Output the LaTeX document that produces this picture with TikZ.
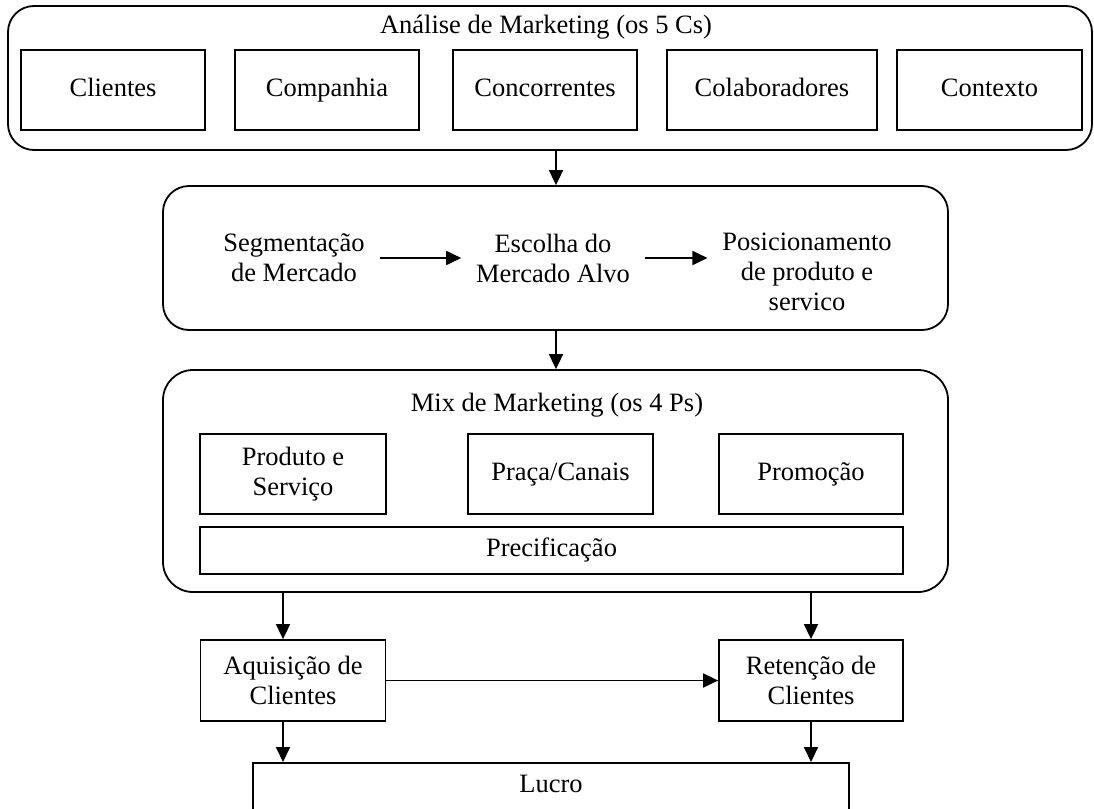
\documentclass[tikz,border=0pt]{standalone}
\usepackage{fontspec}
\setmainfont{Liberation Serif}
\usetikzlibrary{arrows.meta}
\begin{document}
\begin{tikzpicture}[x=1pt,y=-1pt,
  line width=1.8pt,
  every node/.style={font=\fontsize{26.5}{30}\selectfont},
  group/.style={draw, rounded corners=26pt, inner sep=0pt},
  item/.style={draw, minimum height=80pt, inner sep=0pt, align=center},
  oneline/.style={text height=18pt, text depth=6pt},
  plain/.style={align=center, inner sep=14pt},
  arr/.style={-{Triangle[length=15pt,width=14pt]}}]
\useasboundingbox (0,0) rectangle (1094,808);
\clip (0,0) rectangle (1094,808);

% Marketing analysis: the five Cs
\node[group, minimum width=1084pt, minimum height=144pt] (cs) at (550,78) {};
\node[oneline] (cstitle) at (546,28) {Análise de Marketing (os 5 Cs)};
\node[item, oneline, minimum width=184pt] (cli) at (113,90) {Clientes};
\node[item, oneline, minimum width=184pt] (comp) at (327,90) {Companhia};
\node[item, oneline, minimum width=184pt] (conc) at (545,90) {Concorrentes};
\node[item, oneline, minimum width=210pt] (col) at (772,90) {Colaboradores};
\node[item, oneline, minimum width=185pt] (ctx) at (989.5,90) {Contexto};

% Segmentation, targeting, positioning
\node[group, minimum width=785pt, minimum height=144pt] (stp) at (555.5,258) {};
\node[plain] (seg) at (294,258) {Segmentação\\de Mercado};
\node[plain] (esc) at (553,258) {Escolha do\\Mercado Alvo};
\node[plain] (pos) at (807,272) {Posicionamento\\de produto e\\servico};

% Marketing mix: the four Ps
\node[group, rounded corners=30pt, minimum width=785pt, minimum height=222pt] (mix) at (555.5,481) {};
\node[oneline] (mixtitle) at (557,405) {Mix de Marketing (os 4 Ps)};
\node[item, minimum width=186pt] (prod) at (293,474) {Produto e\\Serviço};
\node[item, oneline, minimum width=185pt] (praca) at (560.5,474) {Praça/Canais};
\node[item, oneline, minimum width=184pt] (promo) at (811,474) {Promoção};
\node[item, oneline, minimum width=703pt, minimum height=47pt] (prec) at (551.5,550.5) {Precificação};

% Customers and profit
\node[item, minimum width=185pt, minimum height=81pt] (aq) at (293,680.5) {Aquisição de\\Clientes};
\node[item, minimum width=184pt, minimum height=81pt] (ret) at (811,680.5) {Retenção de\\Clientes};
\node[draw, anchor=north, minimum width=596pt, inner xsep=0pt, inner ysep=6pt,
      text height=24pt, text depth=70pt] (lucro) at (551,762) {Lucro};

% Connectors
\coordinate (spine) at (556,0);
\coordinate (left) at (283,0);
\draw[arr] (cs.south -| spine) -- (stp.north -| spine);
\draw[arr] (stp.south -| spine) -- (mix.north -| spine);
\draw[arr] (seg.east) -- (esc.west);
\draw[arr] (esc.east) -- (pos.west |- esc.east);
\draw[arr] (mix.south -| left) -- (aq.north -| left);
\draw[arr] (mix.south -| ret.north) -- (ret.north);
\draw[arr] (aq.east) -- (ret.west);
\draw[arr] (aq.south -| left) -- (lucro.north -| left);
\draw[arr] (ret.south) -- (lucro.north -| ret.south);
\end{tikzpicture}
\end{document}
